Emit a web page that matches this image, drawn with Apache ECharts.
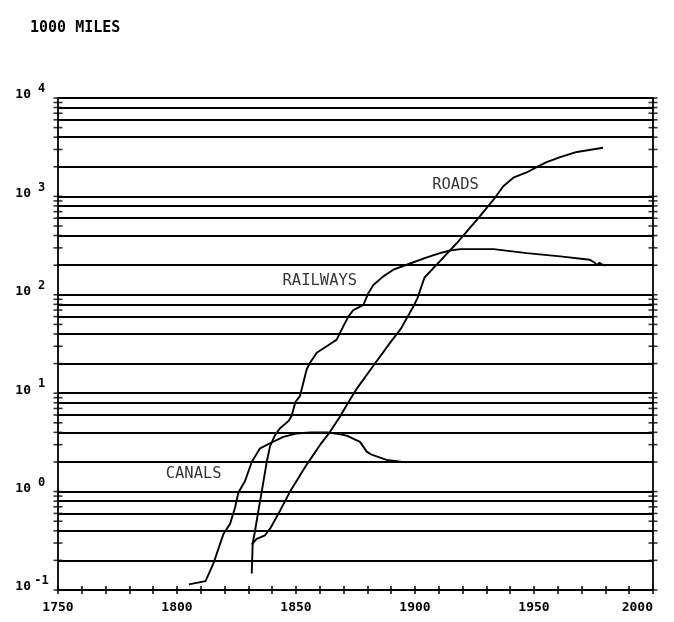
<!DOCTYPE html>
<html><head><meta charset="utf-8">
<script src="https://cdn.jsdelivr.net/npm/echarts@6/dist/echarts.min.js"></script>
<style>html,body{margin:0;padding:0;background:#fff}#c{width:674px;height:622px}</style>
</head><body><div id="c"></div>
<script>
// ---- data ----
const titleText = '1000 MILES';
const xLabelYears = [1750, 1800, 1850, 1900, 1950, 2000];
const decades = [-1, 0, 1, 2, 3];
const gridMantissas = [1, 2, 4, 6, 8];
const tickMantissas = [1, 2, 3, 4, 5, 6, 7, 8, 9];

const canals = [
  [1805, 0.114], [1812, 0.123], [1815.3, 0.186], [1819.5, 0.37], [1822.3, 0.47],
  [1824.4, 0.69], [1825.8, 0.98], [1828.6, 1.28], [1831.4, 2.0], [1834.9, 2.75],
  [1839.1, 3.1], [1844.7, 3.6], [1850.3, 3.9], [1856, 4.0], [1863, 4.0],
  [1868, 3.85], [1871.3, 3.7], [1876.9, 3.2], [1879.7, 2.55], [1881.8, 2.37],
  [1888, 2.1], [1896.5, 1.98]
];
const railways = [
  [1831.4, 0.147], [1831.8, 0.295], [1832.8, 0.4], [1834.2, 0.64], [1835.6, 1.0],
  [1837.7, 2.0], [1839.1, 2.9], [1841.2, 3.75], [1843.3, 4.4], [1846.8, 5.2],
  [1848.2, 5.9], [1849.7, 8.1], [1851.7, 9.4], [1854.5, 17.5], [1855.9, 20.4],
  [1858.7, 25.8], [1862.9, 30], [1867.1, 35], [1869.9, 48], [1872, 60],
  [1874.1, 70], [1878.3, 79], [1880.4, 104], [1882.5, 126], [1886.7, 154],
  [1890.9, 180], [1896.5, 202], [1905, 240], [1910.5, 265], [1914.7, 282],
  [1919, 291], [1933, 291], [1947, 265], [1961, 246], [1973.5, 227],
  [1975.5, 212], [1976.5, 200], [1977.5, 212], [1978.5, 204], [1980, 198]
];
const roads = [
  [1831.4, 0.29], [1833.5, 0.33], [1837, 0.36], [1839.1, 0.42], [1843.3, 0.64],
  [1847.5, 1.0], [1854.5, 1.88], [1860.1, 2.98], [1864.3, 4.05], [1868.5, 5.8],
  [1872, 8.1], [1875.4, 11], [1882.5, 19], [1889.5, 32.5], [1894, 45],
  [1899.3, 76], [1901, 92], [1904, 150], [1910.5, 220], [1917.5, 334],
  [1927.3, 630], [1932.9, 920], [1937.1, 1270], [1941.3, 1550], [1946.9, 1750],
  [1951.1, 1980], [1955.3, 2230], [1961, 2510], [1968, 2830], [1979, 3120]
];
const curveLabels = [
  { name: 'ROADS', value: [1917, 1310] },
  { name: 'RAILWAYS', value: [1860, 138] },
  { name: 'CANALS', value: [1807, 1.5] }
];

// ---- derived ----
const clean = v => Number(v.toPrecision(6));
const gridValues = [];
decades.forEach(k => gridMantissas.forEach(m => gridValues.push(clean(m * Math.pow(10, k)))));
gridValues.push(clean(Math.pow(10, decades[decades.length - 1] + 1)));
const tickValues = [];
decades.forEach(k => tickMantissas.forEach(m => tickValues.push(clean(m * Math.pow(10, k)))));
tickValues.push(clean(Math.pow(10, decades[decades.length - 1] + 1)));
const xMin = xLabelYears[0], xMax = xLabelYears[xLabelYears.length - 1];
const tickMarks = [];
tickValues.forEach(v => { tickMarks.push([xMin, v]); tickMarks.push([xMax, v]); });

const FONT = 'DejaVu Sans Mono';
const BLACK = '#000';

const chart = echarts.init(document.getElementById('c'), null, { renderer: 'canvas' });
const lineSeries = (name, data) => ({
  name, type: 'line', data, symbol: 'none', smooth: false,
  lineStyle: { color: BLACK, width: 1.9 }, z: 3, silent: true
});

chart.setOption({
  animation: false,
  backgroundColor: '#fff',
  title: {
    text: titleText, left: 25, top: 16,
    textStyle: { fontFamily: FONT, fontSize: 15, fontWeight: 'bold', color: BLACK }
  },
  grid: { left: 58, right: 21, top: 98, bottom: 32, containLabel: false },
  xAxis: [{
    type: 'value', min: xMin, max: xMax, interval: 10, position: 'bottom',
    axisLine: { show: true, lineStyle: { color: BLACK, width: 1.8 } },
    axisTick: { show: true, length: 4, lineStyle: { color: BLACK, width: 1.5 } },
    splitLine: { show: false },
    axisLabel: {
      margin: 11, color: BLACK, fontFamily: FONT, fontSize: 13, fontWeight: 'bold',
      alignMaxLabel: 'right',
      formatter: v => (xLabelYears.indexOf(v) >= 0 ? String(v) : '')
    }
  }, {
    type: 'value', min: xMin, max: xMax, interval: 10, position: 'bottom',
    axisLine: { show: false },
    axisTick: { show: true, inside: true, length: 4, lineStyle: { color: BLACK, width: 1.5 } },
    splitLine: { show: false }, axisLabel: { show: false }
  }],
  yAxis: [{
    type: 'log', logBase: 10, min: 0.1, max: 10000, position: 'left',
    axisLine: { show: true, lineStyle: { color: BLACK, width: 1.8 } },
    axisTick: { show: false }, splitLine: { show: false }, minorTick: { show: false },
    axisLabel: {
      margin: 12, verticalAlign: 'bottom',
      formatter: v => '{b|10}{e|' + Math.round(Math.log10(v)) + '}',
      rich: {
        b: { fontFamily: FONT, fontSize: 13, fontWeight: 'bold', color: BLACK, lineHeight: 12, padding: [9, 0, 3, 0] },
        e: { fontFamily: FONT, fontSize: 12, fontWeight: 'bold', color: BLACK, lineHeight: 10, padding: [4, 0, 10, 6], width: 9, align: 'left' }
      }
    }
  }, {
    type: 'log', logBase: 10, min: 0.1, max: 10000, position: 'right',
    axisLine: { show: true, lineStyle: { color: BLACK, width: 1.8 } },
    axisTick: { show: false }, splitLine: { show: false }, axisLabel: { show: false }
  }],
  series: [
    {
      name: 'grid', type: 'line', data: [], symbol: 'none', silent: true,
      markLine: {
        silent: true, symbol: ['none', 'none'], label: { show: false }, animation: false,
        lineStyle: { color: BLACK, width: 1.8, type: 'solid' },
        data: gridValues.map(v => ({ yAxis: v }))
      }
    },
    {
      name: 'ticks', type: 'scatter', data: tickMarks, symbol: 'rect', symbolSize: [9, 1.6],
      itemStyle: { color: BLACK }, clip: false, silent: true, z: 4
    },
    lineSeries('CANALS', canals),
    lineSeries('RAILWAYS', railways),
    lineSeries('ROADS', roads),
    {
      name: 'labels', type: 'scatter', data: curveLabels, symbolSize: 0, silent: true,
      label: {
        show: true, position: 'inside', formatter: p => p.name,
        fontFamily: FONT, fontSize: 15.5, color: BLACK
      }
    }
  ]
});
</script></body></html>
